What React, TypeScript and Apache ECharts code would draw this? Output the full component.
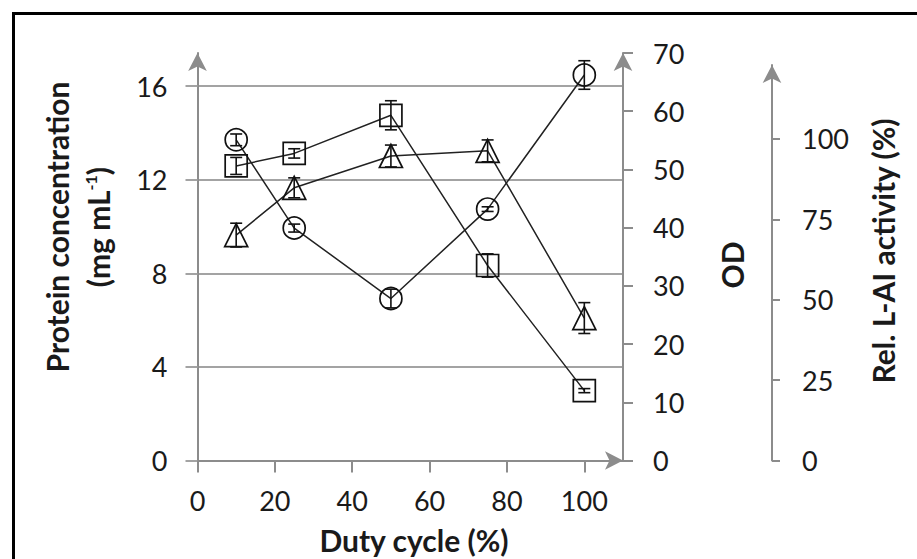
import React, { useEffect, useRef } from "react";
import * as echarts from "echarts";

const dutyCycle = [10, 25, 50, 75, 100];
const proteinConc = [13.7, 9.93, 6.92, 10.74, 16.47];
const proteinErr = [0.25, 0.17, 0.4, 0.1, 0.61];
const odValues = [50.6, 52.75, 59.3, 33.5, 12.0];
const odErr = [1.46, 0.8, 2.5, 2.0, 0.35];
const activity = [70.1, 84.8, 94.7, 96.3, 44.3];
const activityErr = [3.7, 3.1, 3.4, 3.4, 4.8];

const xTicks = [0, 20, 40, 60, 80, 100];
const proteinTicks = [0, 4, 8, 12, 16];
const odTicks = [0, 10, 20, 30, 40, 50, 60, 70];
const activityTicks = [0, 25, 50, 75, 100];

const FONT = "Lato";
const AXIS = "#8c8c8c";
const GRID = "#a3a3a3";
const TXT = "#1a1a1a";

function pairs(vals: number[]) {
  return dutyCycle.map((x, i) => [x, vals[i]]);
}
function errData(vals: number[], errs: number[]) {
  return dutyCycle.map((x, i) => [x, vals[i] - errs[i], vals[i] + errs[i]]);
}

const errRender = (params: any, api: any) => {
  const x = api.value(0);
  const p1 = api.coord([x, api.value(1)]);
  const p2 = api.coord([x, api.value(2)]);
  const w = 6;
  const st = { stroke: "#111", lineWidth: 1.6 };
  return {
    type: "group",
    children: [
      { type: "line", shape: { x1: p1[0], y1: p1[1], x2: p2[0], y2: p2[1] }, style: st },
      { type: "line", shape: { x1: p1[0] - w, y1: p1[1], x2: p1[0] + w, y2: p1[1] }, style: st },
      { type: "line", shape: { x1: p2[0] - w, y1: p2[1], x2: p2[0] + w, y2: p2[1] }, style: st },
    ],
  };
};

export default function App() {
  const ref = useRef<HTMLDivElement>(null);
  useEffect(() => {
    if (!ref.current) return;
    const chart = echarts.init(ref.current, null, { renderer: "svg" });
    const axisLine = () => ({
      show: true,
      onZero: false,
      lineStyle: { color: AXIS, width: 2 },
      symbol: ["none", "arrow"],
      symbolSize: [14, 18],
      symbolOffset: [0, 0],
    });
    const labelStyle = { fontFamily: FONT, fontSize: 27, color: TXT };
    const markerStyle = { color: "transparent", borderColor: "#111", borderWidth: 1.7 };
    const lineStyle = { color: "#222", width: 1.5 };
    const titleFont = { fontFamily: FONT, fontSize: 30, fontWeight: "bold", fill: TXT };

    chart.setOption({
      animation: false,
      backgroundColor: "#fff",
      grid: [
        { left: 197.5, right: 294, top: 53, bottom: 98.5 },
        { left: 197.5, right: 294, top: 65, bottom: 98.5 },
      ],
      xAxis: [
        {
          type: "value",
          gridIndex: 0,
          min: 0,
          max: 110,
          axisLine: axisLine(),
          axisTick: { show: true, length: 12, lineStyle: { color: AXIS, width: 2 }, customValues: xTicks },
          axisLabel: { ...labelStyle, margin: 26, customValues: xTicks },
          splitLine: { show: false },
        },
        {
          type: "value",
          gridIndex: 1,
          min: 0,
          max: 110,
          show: false,
        },
      ],
      yAxis: [
        {
          type: "value",
          gridIndex: 0,
          min: 0,
          max: 17.41,
          axisLine: axisLine(),
          axisTick: { show: true, length: 12, lineStyle: { color: GRID, width: 2 }, customValues: proteinTicks },
          axisLabel: { ...labelStyle, margin: 30, customValues: proteinTicks },
          splitLine: { show: true, lineStyle: { color: GRID, width: 2 } },
        },
        {
          type: "value",
          gridIndex: 0,
          position: "right",
          min: 0,
          max: 70,
          interval: 10,
          axisLine: axisLine(),
          axisTick: { show: true, length: 10, lineStyle: { color: AXIS, width: 2 }, customValues: odTicks },
          axisLabel: { ...labelStyle, margin: 30, customValues: odTicks },
          splitLine: { show: false },
        },
        {
          type: "value",
          gridIndex: 1,
          position: "right",
          offset: 149,
          min: 0,
          max: 123,
          axisLine: axisLine(),
          axisTick: { show: true, length: 8, lineStyle: { color: AXIS, width: 2 }, customValues: activityTicks },
          axisLabel: { ...labelStyle, margin: 30, customValues: activityTicks },
          splitLine: { show: false },
        },
      ],
      graphic: [
        {
          type: "rect",
          shape: { x: 13.5, y: 13.5, width: 2000, height: 2000 },
          style: { fill: "none", stroke: "#000", lineWidth: 3 },
          silent: true,
        },
        {
          type: "text",
          x: 57,
          y: 227,
          rotation: Math.PI / 2,
          style: { text: "Protein concentration", align: "center", verticalAlign: "middle", ...titleFont },
        },
        {
          type: "text",
          x: 98,
          y: 227,
          rotation: Math.PI / 2,
          style: {
            text: "(mg mL{sup|-1})",
            align: "center",
            verticalAlign: "middle",
            ...titleFont,
            rich: { sup: { fontFamily: FONT, fontSize: 16, fontWeight: "bold", fill: TXT, verticalAlign: "top", lineHeight: 32 } },
          },
        },
        {
          type: "text",
          x: 732,
          y: 265,
          rotation: Math.PI / 2,
          style: { text: "OD", align: "center", verticalAlign: "middle", ...titleFont },
        },
        {
          type: "text",
          x: 883,
          y: 251,
          rotation: Math.PI / 2,
          style: { text: "Rel. L-AI activity (%)", align: "center", verticalAlign: "middle", ...titleFont },
        },
        {
          type: "text",
          x: 414,
          y: 540,
          style: { text: "Duty cycle (%)", align: "center", verticalAlign: "middle", ...titleFont },
        },
      ],
      series: [
        {
          type: "line",
          name: "Protein concentration",
          xAxisIndex: 0,
          yAxisIndex: 0,
          data: pairs(proteinConc),
          symbol: "circle",
          symbolSize: 22,
          itemStyle: markerStyle,
          lineStyle,
          z: 3,
        },
        {
          type: "line",
          name: "OD",
          xAxisIndex: 0,
          yAxisIndex: 1,
          data: pairs(odValues),
          symbol: "rect",
          symbolSize: 22,
          itemStyle: markerStyle,
          lineStyle,
          z: 3,
        },
        {
          type: "line",
          name: "Rel. L-AI activity",
          xAxisIndex: 1,
          yAxisIndex: 2,
          data: pairs(activity),
          symbol: "triangle",
          symbolSize: 23,
          itemStyle: markerStyle,
          lineStyle,
          z: 3,
        },
        {
          type: "custom",
          xAxisIndex: 0,
          yAxisIndex: 0,
          renderItem: errRender,
          data: errData(proteinConc, proteinErr),
          encode: { x: 0, y: [1, 2] },
          z: 4,
        },
        {
          type: "custom",
          xAxisIndex: 0,
          yAxisIndex: 1,
          renderItem: errRender,
          data: errData(odValues, odErr),
          encode: { x: 0, y: [1, 2] },
          z: 4,
        },
        {
          type: "custom",
          xAxisIndex: 1,
          yAxisIndex: 2,
          renderItem: errRender,
          data: errData(activity, activityErr),
          encode: { x: 0, y: [1, 2] },
          z: 4,
        },
      ],
    });
    return () => chart.dispose();
  }, []);
  return (
    <div
      ref={ref}
      style={{ position: "fixed", left: 0, top: 0, width: 917, height: 559 }}
    />
  );
}
